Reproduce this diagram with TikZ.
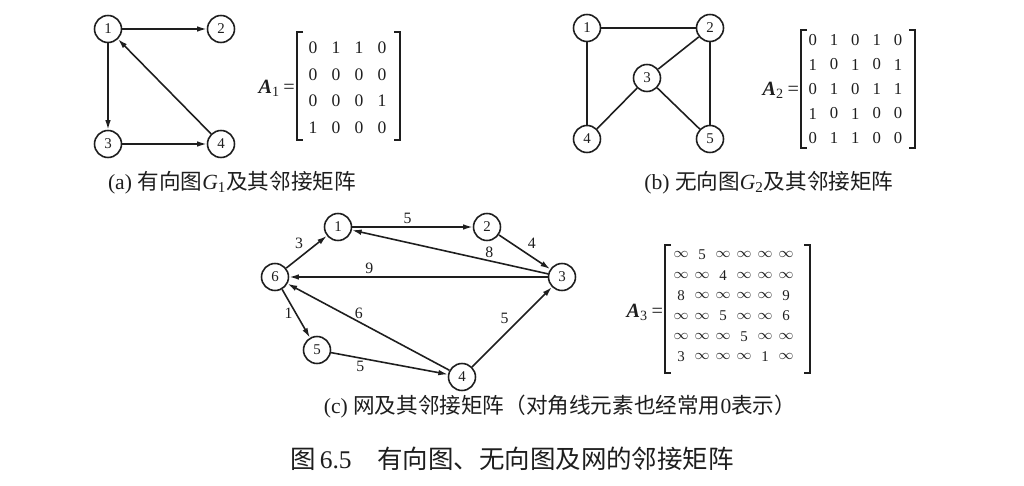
\documentclass[tikz,border=0pt]{standalone}
\usepackage{fontspec}
\setmainfont{Liberation Serif}
\newfontfamily\cjk{Noto Sans CJK SC}
\usetikzlibrary{arrows.meta}
\definecolor{ink}{HTML}{1E1E1E}
\newcommand{\wu}{\ensuremath{\infty}}

\begin{document}
\begin{tikzpicture}[x=0.02cm, y=-0.02cm, >={Latex[length=5.5pt, width=3.2pt]},
  vtx/.style={circle, draw=ink, line width=0.9pt, minimum size=0.54cm,
    inner sep=0pt, font=\fontsize{8.5}{10}\selectfont, text=ink},
  link/.style={draw=ink, line width=0.9pt},
  wt/.style={font=\fontsize{9}{10}\selectfont, text=ink, inner sep=1.5pt},
  brk/.style={draw=ink, line width=1.1pt},
  ment/.style={font=\fontsize{10}{12}\selectfont, text=ink, inner sep=0pt},
  mname/.style={anchor=east, font=\fontsize{11.5}{13}\selectfont, text=ink, inner sep=1pt},
  captext/.style={font=\fontsize{12.3}{15}\selectfont, text=ink}]

% Background
\fill[white] (0,0) rectangle (1024,486);
\useasboundingbox (0,0) rectangle (1024,486);

% (a) directed graph G1
\node[vtx] (a1) at (108,29) {1};
\node[vtx] (a2) at (221,29) {2};
\node[vtx] (a3) at (108,144) {3};
\node[vtx] (a4) at (221,144) {4};
\draw[link,->] (a1) -- (a2);
\draw[link,->] (a1) -- (a3);
\draw[link,->] (a3) -- (a4);
\draw[link,->] (a4) -- (a1);

% matrix A1
\node[mname] (A1) at (297,88) {\textbf{\textit{A}}\textsubscript{1}\,=};
\draw[brk] (303,32) -- (297,32) -- (297,140) -- (303,140);
\draw[brk] (394,32) -- (400,32) -- (400,140) -- (394,140);
\foreach \row [count=\i] in {{0,1,1,0},{0,0,0,0},{0,0,0,1},{1,0,0,0}}
  \foreach \v [count=\j] in \row
    \node[ment] (ma-\i-\j) at ({290+23*\j},{21+26.7*\i}) {\v};

\node[captext] (capa) at (232,183)
  {(a) {\cjk 有向图}\textit{G}\textsubscript{1}{\cjk 及其邻接矩阵}};

% (b) undirected graph G2
\node[vtx] (b1) at (587,28) {1};
\node[vtx] (b2) at (710,28) {2};
\node[vtx] (b3) at (647,78) {3};
\node[vtx] (b4) at (587,139) {4};
\node[vtx] (b5) at (710,139) {5};
\draw[link] (b1) -- (b2);
\draw[link] (b1) -- (b4);
\draw[link] (b2) -- (b3);
\draw[link] (b2) -- (b5);
\draw[link] (b3) -- (b4);
\draw[link] (b3) -- (b5);

% matrix A2
\node[mname] (A2) at (801,90) {\textbf{\textit{A}}\textsubscript{2}\,=};
\draw[brk] (807,30) -- (801,30) -- (801,148) -- (807,148);
\draw[brk] (909,30) -- (915,30) -- (915,148) -- (909,148);
\foreach \row [count=\i] in {{0,1,0,1,0},{1,0,1,0,1},{0,1,0,1,1},{1,0,1,0,0},{0,1,1,0,0}}
  \foreach \v [count=\j] in \row
    \node[ment, font=\fontsize{9.5}{11}\selectfont] (mb-\i-\j) at ({791.5+21.3*\j},{15.5+24.5*\i}) {\v};

\node[captext] (capb) at (769,183)
  {(b) {\cjk 无向图}\textit{G}\textsubscript{2}{\cjk 及其邻接矩阵}};

% (c) network
\node[vtx] (c1) at (338,227) {1};
\node[vtx] (c2) at (487,227) {2};
\node[vtx] (c3) at (562,277) {3};
\node[vtx] (c4) at (462,377) {4};
\node[vtx] (c5) at (317,350) {5};
\node[vtx] (c6) at (275,277) {6};
\draw[link,->] (c1) -- node[wt, pos=0.46, above] (w12) {5} (c2);
\draw[link,->] (c2) -- node[wt, pos=0.5, above right] (w23) {4} (c3);
\draw[link,->] (c3) -- node[wt, pos=0.3, above] (w31) {8} (c1);
\draw[link,->] (c3) -- node[wt, pos=0.69, above] (w36) {9} (c6);
\draw[link,->] (c6) -- node[wt, pos=0.5, above left] (w61) {3} (c1);
\draw[link,->] (c6) -- node[wt, pos=0.5, left] (w65) {1} (c5);
\draw[link,->] (c5) -- node[wt, pos=0.25, below] (w54) {5} (c4);
\draw[link,->] (c4) -- node[wt, pos=0.56, above] (w46) {6} (c6);
\draw[link,->] (c4) -- node[wt, pos=0.5, above left] (w43) {5} (c3);

% matrix A3
\node[mname] (A3) at (665,312) {\textbf{\textit{A}}\textsubscript{3}\,=};
\draw[brk] (671,245) -- (665,245) -- (665,373) -- (671,373);
\draw[brk] (804,245) -- (810,245) -- (810,373) -- (804,373);
\foreach \row [count=\i] in {{\wu,5,\wu,\wu,\wu,\wu},{\wu,\wu,4,\wu,\wu,\wu},
    {8,\wu,\wu,\wu,\wu,9},{\wu,\wu,5,\wu,\wu,6},{\wu,\wu,\wu,5,\wu,\wu},{3,\wu,\wu,\wu,1,\wu}}
  \foreach \v [count=\j] in \row
    \node[ment, font=\fontsize{8.5}{10}\selectfont] (mc-\i-\j) at ({660+21*\j},{234.5+20.4*\i}) {\v};

\node[captext] (capc) at (560,407)
  {(c) {\cjk 网及其邻接矩阵（对角线元素也经常用}0{\cjk 表示）}};

% figure title
\node[captext, font=\fontsize{14.5}{17}\selectfont] (title) at (512,459)
  {{\cjk 图}\,6.5\quad{\cjk 有向图、无向图及网的邻接矩阵}};

\end{tikzpicture}
\end{document}
